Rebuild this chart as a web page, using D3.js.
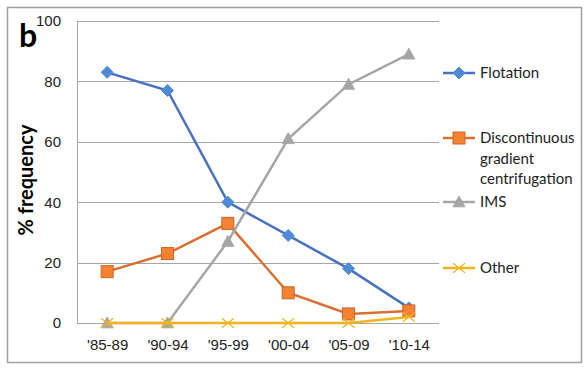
<!DOCTYPE html>
<html>
<head>
<meta charset="utf-8">
<script src="https://cdn.jsdelivr.net/npm/d3@7"></script>
<style>
body { margin: 0; background: #fff; }
svg { font-family: Lato, "Open Sans", sans-serif; }
</style>
</head>
<body>
<div id="chart"></div>
<script>
var periods = ["'85-89", "'90-94", "'95-99", "'00-04", "'05-09", "'10-14"];
var flotation = [83, 77, 40, 29, 18, 5];
var discontinuous = [17, 23, 33, 10, 3, 4];
var ims = [0, 0, 27, 61, 79, 89];
var other = [0, 0, 0, 0, 0, 2];
var yTicks = [0, 20, 40, 60, 80, 100];

var series = [
    {name: ["Flotation"], values: flotation, line: "#4a70c0", fill: "#4f8ad6", stroke: "#4f8ad6", shape: "diamond", ly: 73},
    {name: ["Discontinuous", "gradient", "centrifugation"], values: discontinuous, line: "#d8702f", fill: "#f58230", stroke: "#c9652a", shape: "square", ly: 138},
    {name: ["IMS"], values: ims, line: "#a6a6a6", fill: "#a6a6a6", stroke: "#a6a6a6", shape: "triangle", ly: 202},
    {name: ["Other"], values: other, line: "#f0b41e", fill: "none", stroke: "#f0b41e", shape: "x", ly: 268}
];

var W = 588, H = 370;
var margin = {top: 21, left: 77};
var width = 362, height = 302;

var svg = d3.select("#chart").append("svg")
    .attr("width", W)
    .attr("height", H);

svg.append("rect")
    .attr("x", 7.5).attr("y", 7.5)
    .attr("width", 574).attr("height", 355)
    .attr("fill", "none")
    .attr("stroke", "#a0a0a0")
    .attr("stroke-width", 1.5);

var g = svg.append("g")
    .attr("transform", "translate(" + margin.left + "," + margin.top + ")");

var x = d3.scalePoint()
    .domain(periods)
    .range([0, width])
    .padding(0.5);
var y = d3.scaleLinear()
    .domain([0, 100])
    .range([height, 0]);

// grid
g.selectAll(".grid")
    .data(yTicks)
    .enter()
    .append("line")
    .attr("x1", 0).attr("x2", width)
    .attr("y1", function(d) { return Math.round(y(d)) + 0.5; })
    .attr("y2", function(d) { return Math.round(y(d)) + 0.5; })
    .attr("stroke", "#a6a6a6")
    .attr("stroke-width", 1);

g.append("line")
    .attr("x1", 0.5).attr("x2", 0.5)
    .attr("y1", 0).attr("y2", height)
    .attr("stroke", "#a6a6a6");

var yAxis = g.append("g")
    .call(d3.axisLeft(y).tickValues(yTicks).tickSize(0).tickPadding(16));
yAxis.select(".domain").remove();
yAxis.selectAll("text")
    .style("font-size", "15px")
    .attr("fill", "#222");

var xAxis = g.append("g")
    .attr("transform", "translate(0," + height + ")")
    .call(d3.axisBottom(x).tickSize(0).tickPadding(16));
xAxis.select(".domain").remove();
xAxis.selectAll("text")
    .style("font-size", "15px")
    .attr("fill", "#222");

function marker(sel, shape, s) {
    if (shape === "diamond") {
        sel.append("path").attr("d", "M0," + (-s) + "L" + s + ",0L0," + s + "L" + (-s) + ",0Z");
    } else if (shape === "square") {
        sel.append("rect").attr("x", -s).attr("y", -s).attr("width", 2 * s).attr("height", 2 * s);
    } else if (shape === "triangle") {
        sel.append("path").attr("d", "M0," + (-s) + "L" + s + "," + (s * 0.8) + "L" + (-s) + "," + (s * 0.8) + "Z");
    } else {
        sel.append("path").attr("d", "M" + (-s) + "," + (-s * 0.8) + "L" + s + "," + (s * 0.8) + "M" + (-s) + "," + (s * 0.8) + "L" + s + "," + (-s * 0.8));
    }
}

var sizes = {diamond: 6, square: 6, triangle: 6, x: 6};

var line = d3.line()
    .x(function(d, i) { return x(periods[i]); })
    .y(function(d) { return y(d); });

series.forEach(function(s) {
    g.append("path")
        .datum(s.values)
        .attr("fill", "none")
        .attr("stroke", s.line)
        .attr("stroke-width", 2.5)
        .attr("d", line);

    s.values.forEach(function(v, i) {
        var m = g.append("g")
            .attr("transform", "translate(" + x(periods[i]) + "," + y(v) + ")")
            .attr("fill", s.fill)
            .attr("stroke", s.stroke)
            .attr("stroke-width", s.shape === "x" ? 1.3 : 1);
        marker(m, s.shape, sizes[s.shape]);
    });

    // legend
    var lg = svg.append("g").attr("transform", "translate(0," + s.ly + ")");
    lg.append("line")
        .attr("x1", 443).attr("x2", 475)
        .attr("stroke", s.line)
        .attr("stroke-width", 2.5);
    var lm = lg.append("g")
        .attr("transform", "translate(459,0)")
        .attr("fill", s.fill)
        .attr("stroke", s.stroke)
        .attr("stroke-width", s.shape === "x" ? 1.3 : 1);
    marker(lm, s.shape, sizes[s.shape]);
    s.name.forEach(function(t, k) {
        lg.append("text")
            .attr("x", 480)
            .attr("y", k * 20.5)
            .attr("dy", "0.35em")
            .style("font-size", "15px")
            .attr("fill", "#222")
            .text(t);
    });
});

svg.append("text")
    .attr("transform", "translate(33,180) rotate(-90)")
    .attr("text-anchor", "middle")
    .style("font-size", "20px")
    .style("font-weight", "bold")
    .text("% frequency");

svg.append("text")
    .attr("x", 19)
    .attr("y", 47)
    .style("font-size", "32px")
    .style("font-weight", "bold")
    .text("b");
</script>
</body>
</html>
